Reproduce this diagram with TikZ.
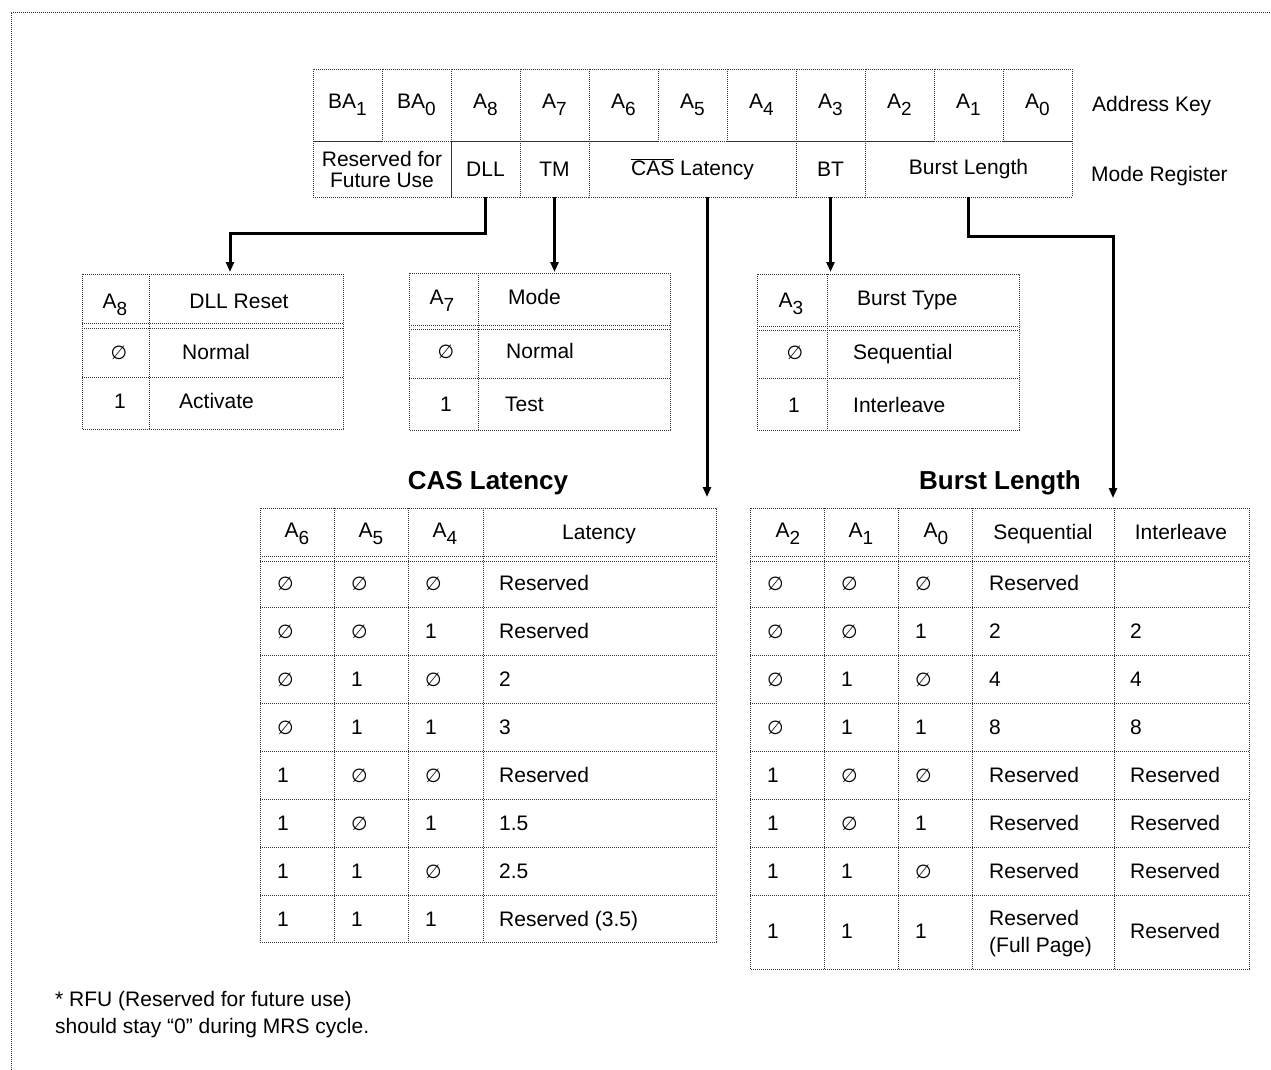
\documentclass[tikz,border=0pt]{standalone}
\usepackage{fontspec}
\setmainfont{Liberation Sans}
\newfontfamily\symf{DejaVu Sans}
\usetikzlibrary{arrows.meta}
\newcommand\subs[1]{\raisebox{-7pt}{\fontsize{19}{19}\selectfont #1}}
\newcommand\zer{{\symf\fontsize{19}{19}\selectfont ∅}}
\begin{document}
\begin{tikzpicture}[x={(1pt,0)},y={(0,-1pt)},
  dot/.style={draw=black!80, line width=0.9pt, dash pattern=on 0.8pt off 1.2pt},
  cell/.style={dot, inner sep=0pt, outer sep=0pt, anchor=north west, align=center,
    font=\fontsize{21}{21}\selectfont},
  txt/.style={inner sep=0pt, anchor=base, font=\fontsize{21}{21}\selectfont},
  ltxt/.style={txt, anchor=base west},
  ttl/.style={inner sep=0pt, anchor=base, font=\fontsize{26}{26}\selectfont\bfseries},
  arr/.style={line width=3pt, -{Triangle[length=10pt,width=8pt]}}]
\useasboundingbox (0,0) rectangle (1271,1070);
% outer frame (top and left edges)
\draw[dot] (11,1070) -- (11,12) -- (1271,12);

% ---------- Address key row ----------
\foreach \t [count=\i from 0] in {BA\subs{1},BA\subs{0},A\subs{8},A\subs{7},A\subs{6},A\subs{5},A\subs{4},A\subs{3},A\subs{2},A\subs{1},A\subs{0}}
  \node[cell, minimum width=69pt, minimum height=72pt] (ak\i) at ({313+69*\i},69) {\t};
\node[ltxt] (akl) at (1092,112) {Address Key};

% ---------- Mode register row ----------
\node[cell, minimum width=138pt, minimum height=56pt] (rfu) at (313,141) {Reserved for\\Future Use};
\node[cell, minimum width=69pt, minimum height=56pt] (dll) at (451,141) {DLL};
\node[cell, minimum width=69pt, minimum height=56pt] (tm) at (520,141) {TM};
\node[cell, minimum width=207pt, minimum height=56pt] (cas) at (589,141) {$\overline{\hbox{CAS}}$ Latency};
\node[cell, minimum width=69pt, minimum height=56pt] (bt) at (796,141) {BT};
\node[cell, minimum width=207pt, minimum height=56pt] (bl) at (865,141) {Burst Length};
\node[ltxt] (mrl) at (1091,181) {Mode Register};

% ---------- arrow targets ----------
\coordinate (dllT) at (230,272);
\coordinate (tmT) at (554.5,272);
\coordinate (casT) at (707,497);
\coordinate (btT) at (830.5,272);
\coordinate (blT) at (1113,498);

\draw[arr] (dll.south) -- ++(0,36) -| (dllT);
\draw[arr] (tm.south) -- (tmT);
\draw[arr] (cas.south -| casT) -- (casT);
\draw[arr] (bt.south) -- (btT);
\draw[arr] (bl.south) -- ++(0,39) -| (blT);

% ---------- DLL table ----------
\draw[dot] (82,274) rectangle (343,429);
\draw[dot] (149,274) -- (149,429);
\draw[dot] (82,323) -- (343,323) (82,328) -- (343,328) (82,377) -- (343,377);
\node[txt] (d1) at (115,308) {A\subs{8}};
\node[txt] (d2) at (239,308) {DLL Reset};
\node[txt] (d3) at (119,359) {\zer};
\node[ltxt] (d4) at (182,359) {Normal};
\node[txt] (d5) at (120,408) {1};
\node[ltxt] (d6) at (179,408) {Activate};

% ---------- Mode table ----------
\draw[dot] (409,273) rectangle (670,430);
\draw[dot] (478,273) -- (478,430);
\draw[dot] (409,325) -- (670,325) (409,329) -- (670,329) (409,378) -- (670,378);
\node[txt] (m1) at (442,304) {A\subs{7}};
\node[ltxt] (m2) at (508,304) {Mode};
\node[txt] (m3) at (446,358) {\zer};
\node[ltxt] (m4) at (506,358) {Normal};
\node[txt] (m5) at (446,411) {1};
\node[ltxt] (m6) at (505,411) {Test};

% ---------- Burst type table ----------
\draw[dot] (757,274) rectangle (1019,430);
\draw[dot] (827,274) -- (827,430);
\draw[dot] (757,326) -- (1019,326) (757,330) -- (1019,330) (757,378) -- (1019,378);
\node[txt] (b1) at (791,307) {A\subs{3}};
\node[ltxt] (b2) at (857,305) {Burst Type};
\node[txt] (b3) at (795,359) {\zer};
\node[ltxt] (b4) at (853,359) {Sequential};
\node[txt] (b5) at (794,412) {1};
\node[ltxt] (b6) at (853,412) {Interleave};

% ---------- CAS latency table ----------
\node[ttl] (castitle) at (488,489) {CAS Latency};
\draw[dot] (260,508) rectangle (716,942);
\foreach \x in {334,408,483} \draw[dot] (\x,508) -- (\x,942);
\foreach \y in {556,561,607,655,703,751,799,847,895} \draw[dot] (260,\y) -- (716,\y);
\node[txt] (ch1) at (297,537) {A\subs{6}};
\node[txt] (ch2) at (371,537) {A\subs{5}};
\node[txt] (ch3) at (445,537) {A\subs{4}};
\node[txt] (ch4) at (599,539) {Latency};
\foreach \a/\b/\c/\d [count=\i from 0] in {\zer/\zer/\zer/Reserved,\zer/\zer/1/Reserved,\zer/1/\zer/2,\zer/1/1/3,1/\zer/\zer/Reserved,1/\zer/1/1.5,1/1/\zer/2.5,1/1/1/Reserved (3.5)}{
  \node[ltxt] (ca\i) at (277,590+48*\i) {\a};
  \node[ltxt] (cb\i) at (351,590+48*\i) {\b};
  \node[ltxt] (cc\i) at (425,590+48*\i) {\c};
  \node[ltxt] (cd\i) at (499,590+48*\i) {\d};
}

% ---------- Burst length table ----------
\node[ttl] (bltitle) at (1000,489) {Burst Length};
\draw[dot] (750,508) rectangle (1249,969);
\foreach \x in {824,898,972,1114} \draw[dot] (\x,508) -- (\x,969);
\foreach \y in {556,561,607,655,703,751,799,847,895} \draw[dot] (750,\y) -- (1249,\y);
\node[txt] (bh1) at (788,537) {A\subs{2}};
\node[txt] (bh2) at (861,537) {A\subs{1}};
\node[txt] (bh3) at (936,537) {A\subs{0}};
\node[txt] (bh4) at (1043,539) {Sequential};
\node[txt] (bh5) at (1181,539) {Interleave};
\foreach \a/\b/\c/\d/\e [count=\i from 0] in {\zer/\zer/\zer/Reserved/{},\zer/\zer/1/2/2,\zer/1/\zer/4/4,\zer/1/1/8/8,1/\zer/\zer/Reserved/Reserved,1/\zer/1/Reserved/Reserved,1/1/\zer/Reserved/Reserved}{
  \node[ltxt] (ba\i) at (767,590+48*\i) {\a};
  \node[ltxt] (bb\i) at (841,590+48*\i) {\b};
  \node[ltxt] (bc\i) at (915,590+48*\i) {\c};
  \node[ltxt] (bd\i) at (989,590+48*\i) {\d};
  \node[ltxt] (be\i) at (1130,590+48*\i) {\e};
}
\node[ltxt] (ba7) at (767,938) {1};
\node[ltxt] (bb7) at (841,938) {1};
\node[ltxt] (bc7) at (915,938) {1};
\node[ltxt] (bd7a) at (989,925) {Reserved};
\node[ltxt] (bd7b) at (989,952) {(Full Page)};
\node[ltxt] (be7) at (1130,938) {Reserved};

% ---------- footnote ----------
\node[ltxt] (fn1) at (55,1006) {* RFU (Reserved for future use)};
\node[ltxt] (fn2) at (55,1033) {should stay “0” during MRS cycle.};
\end{tikzpicture}
\end{document}
